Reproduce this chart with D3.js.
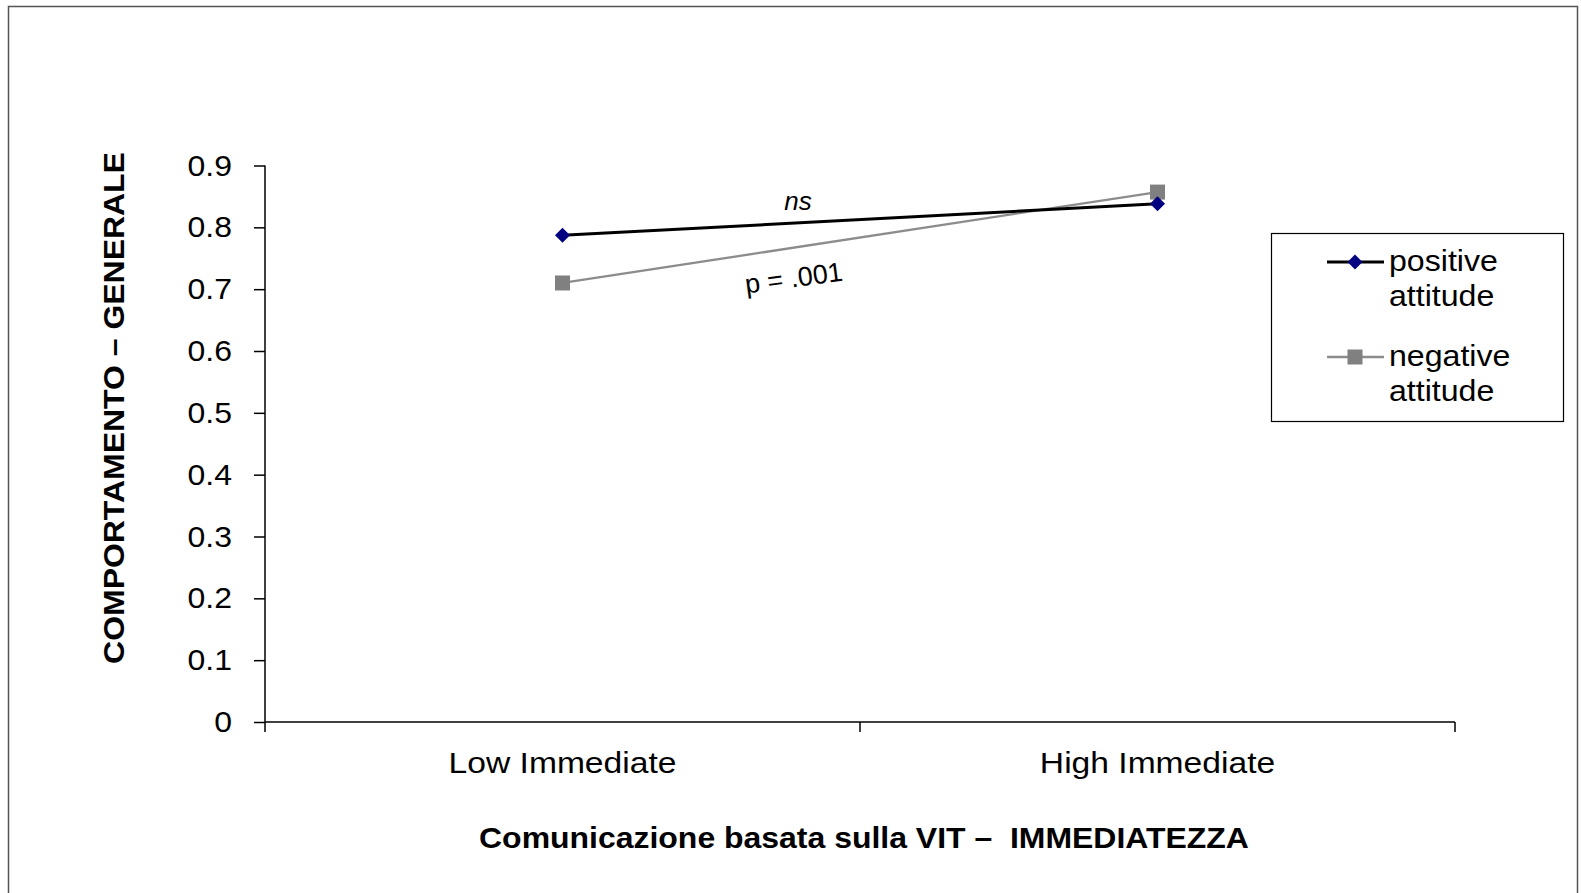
<!DOCTYPE html>
<html>
<head>
<meta charset="utf-8">
<script src="https://cdn.jsdelivr.net/npm/d3@7"></script>
<style>
  html, body { margin: 0; padding: 0; background: #fff; }
  svg { display: block; }
  text { font-family: "Liberation Sans", Arial, sans-serif; }
</style>
</head>
<body>
<svg id="chart" width="1581" height="893"></svg>
<script>
const categories = ["Low Immediate", "High Immediate"];
const seriesNames = ["positive attitude", "negative attitude"];
const positiveValues = [0.787, 0.838];
const negativeValues = [0.710, 0.857];
const yTicks = [0, 0.1, 0.2, 0.3, 0.4, 0.5, 0.6, 0.7, 0.8, 0.9];
const xTitle = "Comunicazione basata sulla VIT –  IMMEDIATEZZA";
const yTitle = "COMPORTAMENTO – GENERALE";
const annotations = [
  { text: "ns", italic: true },
  { text: "p = .001", italic: false }
];

const svg = d3.select("#chart");

function stretch(sel, f) {
  sel.each(function () {
    const len = this.getComputedTextLength();
    d3.select(this).attr("textLength", len * f).attr("lengthAdjust", "spacingAndGlyphs");
  });
}

// outer frame
svg.append("rect")
  .attr("x", 8.5).attr("y", 6.5)
  .attr("width", 1569).attr("height", 900)
  .attr("fill", "#fff").attr("stroke", "#555").attr("stroke-width", 1.5);

const plot = { left: 265, right: 1455, top: 165.5, bottom: 722 };

const x = d3.scaleBand().domain(categories).range([plot.left, plot.right]).paddingInner(0).paddingOuter(0);
const y = d3.scaleLinear().domain([0, 0.9]).range([plot.bottom, plot.top]);

// Y axis
const yAxis = d3.axisLeft(y).tickValues(yTicks).tickSize(11).tickPadding(22)
  .tickFormat(d => d === 0 ? "0" : d3.format(".1f")(d));
const yg = svg.append("g").attr("transform", `translate(${plot.left},0)`).call(yAxis);
yg.select(".domain").attr("stroke", "#000").attr("stroke-width", 1.5).attr("d", `M0,${plot.top}V${plot.bottom}`);
yg.selectAll(".tick line").attr("stroke", "#000").attr("stroke-width", 1.5);
yg.selectAll(".tick text").attr("font-size", 30).attr("fill", "#000")
  .attr("font-family", "Liberation Sans, Arial, sans-serif");
stretch(yg.selectAll(".tick text"), 1.065);

// X axis
const xAxis = d3.axisBottom(x).tickSize(0).tickPadding(0);
const xg = svg.append("g").attr("transform", `translate(0,${plot.bottom})`).call(xAxis);
xg.select(".domain").attr("stroke", "#000").attr("stroke-width", 1.5).attr("d", `M${plot.left},0H${plot.right}`);
xg.selectAll(".tick text").attr("font-size", 30).attr("fill", "#000").attr("dy", 0).attr("y", 51)
  .attr("font-family", "Liberation Sans, Arial, sans-serif");
stretch(xg.selectAll(".tick text"), 1.12);
const boundaries = [plot.left, x(categories[1]), plot.right];
xg.selectAll(".btick").data(boundaries).enter().append("line")
  .attr("x1", d => d).attr("x2", d => d).attr("y1", 0).attr("y2", 10)
  .attr("stroke", "#000").attr("stroke-width", 1.5);

const cx = c => x(c) + x.bandwidth() / 2;

// series
const series = [
  { name: seriesNames[0], values: positiveValues, line: "#000000", marker: "#000080", shape: "diamond", width: 3 },
  { name: seriesNames[1], values: negativeValues, line: "#8c8c8c", marker: "#808080", shape: "square", width: 2.3 }
];

function drawMarker(g, shape, color) {
  if (shape === "diamond") {
    g.append("path").attr("d", "M0,-7.5L7.5,0L0,7.5L-7.5,0Z").attr("fill", color);
  } else {
    g.append("rect").attr("x", -7.5).attr("y", -7.5).attr("width", 15).attr("height", 15).attr("fill", color);
  }
}

const line = d3.line().x((d, i) => cx(categories[i])).y(d => y(d));
[series[1], series[0]].forEach(s => {
  svg.append("path").datum(s.values).attr("d", line)
    .attr("fill", "none").attr("stroke", s.line).attr("stroke-width", s.width);
});
[series[1], series[0]].forEach(s => {
  s.values.forEach((v, i) => {
    const g = svg.append("g").attr("transform", `translate(${cx(categories[i])},${y(v)})`);
    drawMarker(g, s.shape, s.marker);
  });
});

// annotations
svg.append("text").attr("x", 798).attr("y", 210).attr("text-anchor", "middle")
  .attr("font-size", 26).attr("font-style", "italic").attr("fill", "#000")
  .attr("font-family", "Carlito, 'Open Sans', sans-serif")
  .text(annotations[0].text);
svg.append("text")
  .attr("transform", "translate(795,287) rotate(-7.5)")
  .attr("text-anchor", "middle")
  .attr("font-size", 27).attr("fill", "#000")
  .attr("font-family", "Carlito, 'Open Sans', sans-serif")
  .text(annotations[1].text);

// axis titles
const xt = svg.append("text").attr("x", 864).attr("y", 848).attr("text-anchor", "middle")
  .attr("font-size", 30).attr("font-weight", "bold").attr("fill", "#000")
  .style("white-space", "pre")
  .text(xTitle);
stretch(xt, 1.065);
const yt = svg.append("text").attr("transform", "translate(124,408) rotate(-90)")
  .attr("text-anchor", "middle")
  .attr("font-size", 30).attr("font-weight", "bold").attr("fill", "#000")
  .text(yTitle);
stretch(yt, 1.065);

// legend
const lg = svg.append("g");
lg.append("rect").attr("x", 1271.5).attr("y", 233.5).attr("width", 292).attr("height", 188)
  .attr("fill", "#fff").attr("stroke", "#000").attr("stroke-width", 1.2);
const legendRows = [
  { s: series[0], ly: 262 },
  { s: series[1], ly: 357 }
];
legendRows.forEach(r => {
  lg.append("line").attr("x1", 1327).attr("x2", 1384).attr("y1", r.ly).attr("y2", r.ly)
    .attr("stroke", r.s.line).attr("stroke-width", r.s.width);
  const m = lg.append("g").attr("transform", `translate(1355,${r.ly})`);
  drawMarker(m, r.s.shape, r.s.marker);
  const words = r.s.name.split(" ");
  words.forEach((w, k) => {
    const t = lg.append("text").attr("x", 1389).attr("y", r.ly + 9 + k * 35)
      .attr("font-size", 30).attr("fill", "#000").text(w);
    stretch(t, 1.07);
  });
});
</script>
</body>
</html>
